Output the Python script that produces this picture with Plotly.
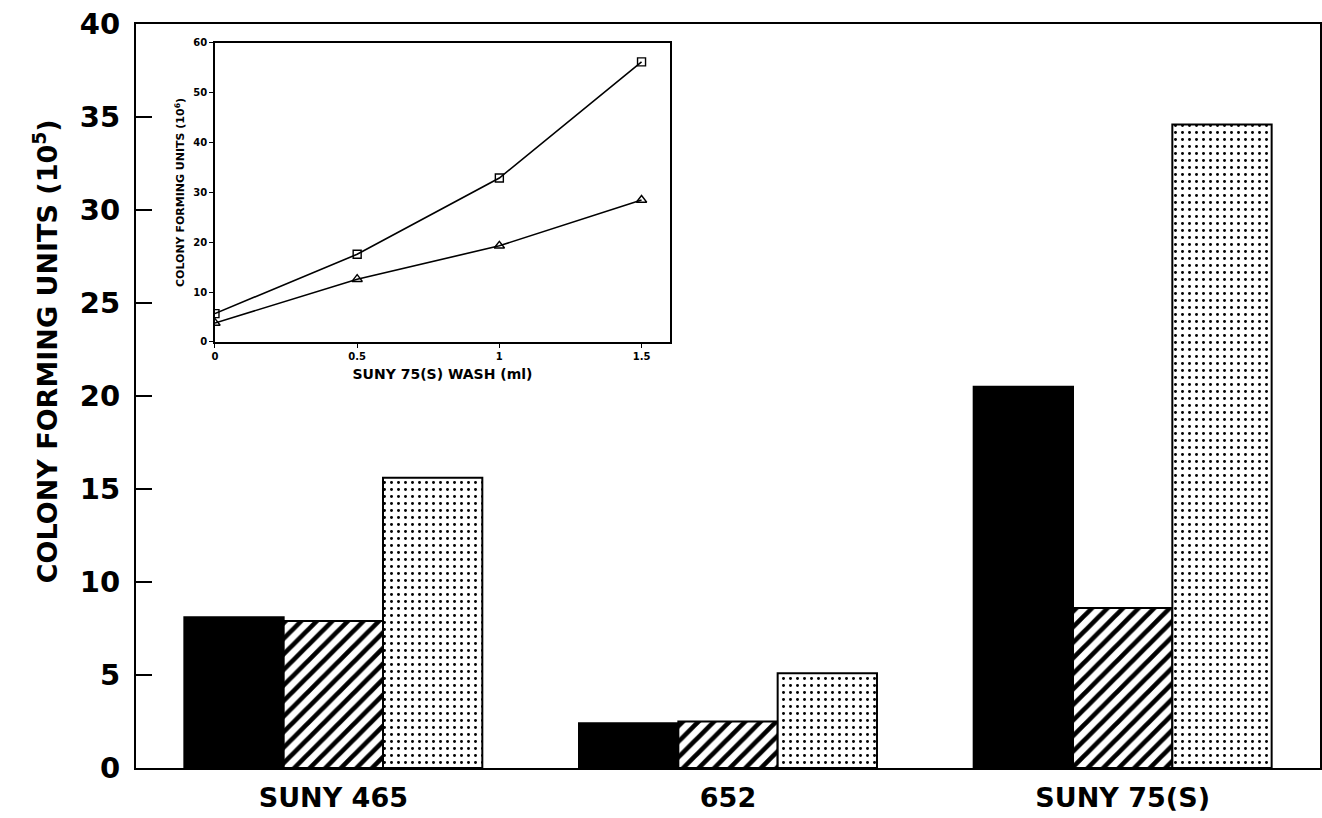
import plotly.graph_objects as go

# ---- data ----
categories = ["SUNY 465", "652", "SUNY 75(S)"]
black_vals = [8.1, 2.4, 20.5]
hatched_vals = [7.9, 2.5, 8.6]
dotted_vals = [15.6, 5.1, 34.6]

wash_ml = [0, 0.5, 1, 1.5]
square_vals = [5.7, 17.6, 32.9, 56.2]
triangle_vals = [3.8, 12.6, 19.3, 28.5]

main_y_ticks = [0, 5, 10, 15, 20, 25, 30, 35, 40]
inset_y_ticks = [0, 10, 20, 30, 40, 50, 60]
inset_x_ticks = [0, 0.5, 1, 1.5]
inset_x_labels = ["0", "0.5", "1", "1.5"]

FONT = "DejaVu Sans"

fig = go.Figure()

bar_line = dict(color="black", width=2)
fig.add_trace(go.Bar(x=categories, y=black_vals, marker=dict(color="black", line=bar_line),
                     xaxis="x", yaxis="y"))
fig.add_trace(go.Bar(x=categories, y=hatched_vals,
                     marker=dict(color="white", line=bar_line,
                                 pattern=dict(shape="/", fgcolor="black", bgcolor="white",
                                              size=11, solidity=0.42, fgopacity=1)),
                     xaxis="x", yaxis="y"))
fig.add_trace(go.Bar(x=categories, y=dotted_vals,
                     marker=dict(color="white", line=bar_line,
                                 pattern=dict(shape=".", fgcolor="black", bgcolor="white",
                                              size=7, solidity=0.14, fgopacity=1)),
                     xaxis="x", yaxis="y"))

fig.add_trace(go.Scatter(x=wash_ml, y=square_vals, mode="lines+markers",
                         line=dict(color="black", width=1.6),
                         marker=dict(symbol="square-open", size=8, color="black",
                                     line=dict(width=1.4)),
                         xaxis="x2", yaxis="y2"))
fig.add_trace(go.Scatter(x=wash_ml, y=triangle_vals, mode="lines+markers",
                         line=dict(color="black", width=1.6),
                         marker=dict(symbol="triangle-up-open", size=9, color="black",
                                     line=dict(width=1.4)),
                         xaxis="x2", yaxis="y2"))

fig.update_layout(
    width=1322, height=818,
    margin=dict(l=136, r=2, t=24, b=50, autoexpand=False),
    paper_bgcolor="white", plot_bgcolor="white",
    showlegend=False,
    barmode="group", bargap=0.245, bargroupgap=0,
    font=dict(family=FONT, color="black"),
    xaxis=dict(domain=[0, 1], showline=True, linecolor="black", linewidth=2, mirror=True,
               ticks="outside", ticklen=5, tickcolor="rgba(0,0,0,0)",
               tickfont=dict(family=FONT, size=27, weight="bold"),
               showgrid=False, zeroline=False, automargin=False),
    yaxis=dict(domain=[0, 1], range=[0, 40], tickvals=main_y_ticks,
               showline=True, linecolor="black", linewidth=2, mirror=True,
               ticks="inside", ticklen=16, tickwidth=2, tickcolor="black",
               tickfont=dict(family=FONT, size=29, weight="bold"),
               ticklabelstandoff=8, automargin=False,
               showgrid=False, zeroline=False),
    xaxis2=dict(domain=[0.0667, 0.451], anchor="y2", range=[0, 1.6],
                tickvals=inset_x_ticks, ticktext=inset_x_labels,
                showline=True, linecolor="black", linewidth=1.5, mirror=True,
                ticks="outside", ticklen=4, tickwidth=1.2, tickcolor="black",
                tickfont=dict(family=FONT, size=10, weight="bold"),
                title=dict(text="SUNY 75(S) WASH (ml)", font=dict(family=FONT, size=14, weight="bold"),
                           standoff=8),
                showgrid=False, zeroline=False),
    yaxis2=dict(domain=[0.5726, 0.9745], anchor="x2", range=[0, 60],
                tickvals=inset_y_ticks,
                showline=True, linecolor="black", linewidth=1.5, mirror=True,
                ticks="outside", ticklen=4, tickwidth=1.2, tickcolor="black",
                tickfont=dict(family=FONT, size=10, weight="bold"),
                title=dict(text="COLONY FORMING UNITS (10<sup>6</sup>)",
                           font=dict(family=FONT, size=11, weight="bold"), standoff=6),
                showgrid=False, zeroline=False),
    annotations=[dict(text="COLONY FORMING UNITS (10<sup>5</sup>)", textangle=-90,
                      xref="paper", yref="paper", x=-0.0769, y=0.56,
                      xanchor="center", yanchor="middle", showarrow=False,
                      font=dict(family=FONT, size=27, weight="bold"))],
)

fig.write_html("out.html", config={"displayModeBar": False},
               post_script="document.body.style.margin='0';document.body.style.overflow='hidden';")
